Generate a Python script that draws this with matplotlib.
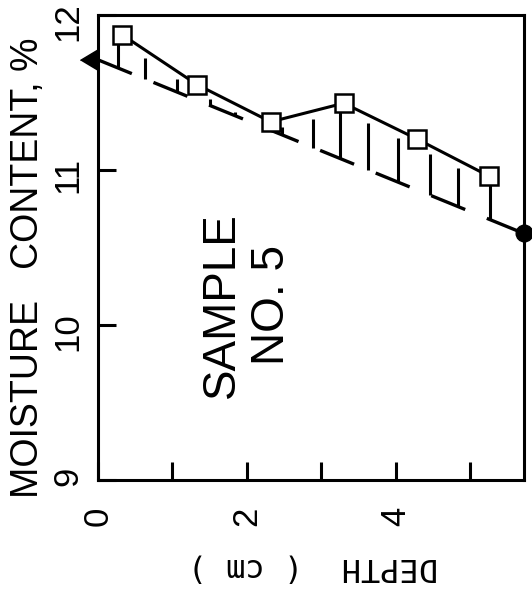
import numpy as np
import matplotlib
matplotlib.use("Agg")
import matplotlib.pyplot as plt

# measured moisture profile (squares)
depth = [0.33, 1.33, 2.32, 3.3, 4.28, 5.25]
moisture = [11.87, 11.55, 11.31, 11.43, 11.20, 10.96]

# dashed reference line, triangle at surface, dot at far end
line_depth = [0.0, 5.72]
line_moist = [11.71, 10.59]

# x positions of the vertical hatch strokes between the two curves
hatch_x = [0.27, 0.63, 1.06, 1.5, 1.84, 2.47, 2.89, 3.25, 3.63, 4.03, 4.46, 4.84, 5.27]

xticks = [0, 1, 2, 3, 4, 5]
xticklabels = ["0", "", "2", "", "4", ""]
yticks = [9, 10, 11, 12]
yticklabels = ["9", "10", "11", "12"]

plt.rcParams['font.family'] = ['Liberation Sans', 'DejaVu Sans']

fig = plt.figure(figsize=(5.32, 5.92), dpi=100)
ax = fig.add_axes([0.184, 0.189, 0.801, 0.786])

# hatch strokes
top = np.interp(hatch_x, depth, moisture)
bot = np.interp(hatch_x, line_depth, line_moist)
ax.vlines(hatch_x, bot, top - 0.05, color='black', lw=2.2)

ax.plot(line_depth, line_moist, color='black', lw=2.4, dashes=(11, 7), clip_on=False)
ax.plot(depth, moisture, color='black', lw=2.2, marker='s', ms=13,
        mfc='white', mec='black', mew=1.8, zorder=3)

tri = [(-1, 0), (0, 0.6), (0, -0.6)]
ax.plot(line_depth[:1], line_moist[:1], marker=tri, ms=26, color='black',
        clip_on=False, zorder=4)
ax.plot(line_depth[1:], line_moist[1:], marker='o', ms=12, color='black',
        clip_on=False, zorder=4)

ax.set_xlim(0, 5.72)
ax.set_ylim(9, 12)
ax.set_xticks(xticks)
ax.set_xticklabels(xticklabels, rotation=90, fontsize=25)
ax.set_yticks(yticks)
ax.set_yticklabels(yticklabels, rotation=90, fontsize=25)
ax.tick_params(direction='in', length=13, width=2.2)
ax.tick_params(axis='x', pad=19)
ax.tick_params(axis='y', pad=10)
for s in ax.spines.values():
    s.set_linewidth(2.2)

fig.text(28 / 532, 1 - 268 / 592, 'MOISTURE   CONTENT, %', rotation=90,
         fontsize=27, ha='center', va='center')
fig.text(313 / 532, 1 - 567 / 592, 'DEPTH  ( cm )', rotation=180,
         fontsize=23, family='DejaVu Sans Mono', ha='center', va='center')

ax.text(2.0, 10.13, 'SAMPLE\nNO. 5', rotation=90, fontsize=33,
        ha='center', va='center', multialignment='center')

fig.savefig('out.png', dpi=100)
